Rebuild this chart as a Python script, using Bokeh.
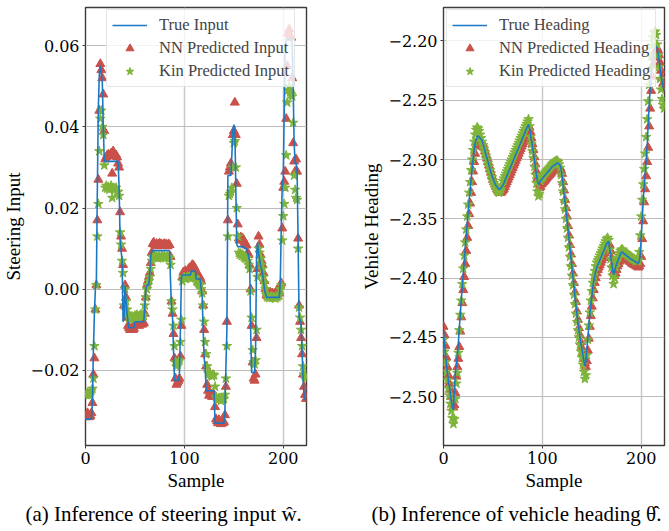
from bokeh.plotting import figure
from bokeh.layouts import row
from bokeh.models import Range1d, FixedTicker, CustomJSTickFormatter, Legend, LegendItem, Title
from bokeh.embed import file_html
from bokeh.resources import INLINE

# ---------------- data ----------------
x_ticks = [0, 100, 200]
input_ticks = [-0.02, 0.0, 0.02, 0.04, 0.06]
heading_ticks = [-2.50, -2.45, -2.40, -2.35, -2.30, -2.25, -2.20]

true_input = [
    -0.032, -0.032, -0.032, -0.032, -0.032, -0.032, -0.0318, -0.028, -0.015, -0.006,
    0.0, 0.002, 0.025, 0.045, 0.053, 0.055, 0.053, 0.051, 0.040, 0.0315,
    0.0315, 0.0315, 0.0315, 0.0315, 0.0315, 0.0315, 0.0315, 0.0315, 0.0315, 0.0315,
    0.0315, 0.0315, 0.0315, 0.0315, 0.025, 0.012, 0.0095, 0.007, -0.008, -0.007,
    0.001, -0.003, -0.006, -0.008, -0.0095, -0.0095, -0.0095, -0.0095, -0.0095, -0.0095,
    -0.008, -0.008, -0.008, -0.008, -0.008, -0.008, -0.008, -0.008, -0.008, -0.008,
    -0.004, 0.0, 0.001, 0.001, 0.001, 0.004, 0.008, 0.0095, 0.0095, 0.0095,
    0.0095, 0.0095, 0.0095, 0.0095, 0.0095, 0.0095, 0.0095, 0.0095, 0.0095, 0.0095,
    0.0095, 0.0095, 0.0095, 0.0095, 0.0095, 0.0095, 0.002, -0.005, -0.007, -0.015,
    -0.0225, -0.0225, -0.0225, -0.0225, -0.0225, -0.021, -0.010, 0.003, 0.0035, 0.0035,
    0.0035, 0.0035, 0.0035, 0.0035, 0.0035, 0.0035, 0.0035, 0.0045, 0.0045, 0.0045,
    0.0045, 0.0045, 0.0025, 0.0025, 0.0025, 0.0025, 0.0025, 0.0, -0.002, -0.010,
    -0.017, -0.019, -0.025, -0.025, -0.025, -0.025, -0.025, -0.025, -0.025, -0.025,
    -0.025, -0.033, -0.033, -0.033, -0.033, -0.033, -0.033, -0.033, -0.033, -0.033,
    -0.033, -0.030, -0.019, -0.010, 0.028, 0.028, 0.028, 0.028, 0.033, 0.039,
    0.0405, 0.040, 0.025, 0.011, 0.0105, 0.0105, 0.0105, 0.0105, 0.0105, 0.0105,
    0.0105, 0.010, 0.010, 0.010, 0.009, 0.008, 0.007, -0.010, -0.0205, -0.0205,
    -0.0205, -0.0205, -0.015, 0.008, 0.0115, 0.009, 0.0075, 0.006, 0.005, 0.004,
    0.002, 0.0, -0.001, -0.002, -0.002, -0.002, -0.002, -0.002, -0.002, -0.002,
    -0.002, -0.002, -0.002, -0.002, -0.002, -0.002, -0.002, 0.002, 0.015, 0.0265,
    0.027, 0.045, 0.060, 0.0615, 0.0615, 0.0615, 0.0615, 0.0615, 0.0615, 0.0605,
    0.050, 0.036, 0.031, 0.031, 0.029, 0.012, -0.007, -0.0075, -0.0085, -0.015,
    -0.022, -0.026, -0.027, -0.0275,
]

nn_input = [
    -0.0315, -0.031, -0.0305, -0.031, -0.0315, -0.0312, -0.0305, -0.028, -0.021, -0.017,
    -0.005, 0.001, 0.017, 0.027, 0.044, 0.0555, 0.054, 0.052, 0.048, 0.039,
    0.032, 0.0325, 0.033, 0.0332, 0.033, 0.0328, 0.0335, 0.0285, 0.034, 0.0333,
    0.0328, 0.033, 0.0325, 0.031, 0.030, 0.019, 0.013, 0.010, 0.006, -0.004,
    0.001, -0.002, -0.007, -0.009, -0.0095, -0.010, -0.0098, -0.0095, -0.010, -0.0097,
    -0.0085, -0.0088, -0.0083, -0.0085, -0.009, -0.0085, -0.0082, -0.0087, -0.0085, -0.0083,
    -0.006, -0.002, 0.001, 0.002, 0.003, 0.004, 0.0065, 0.009, 0.0112, 0.0115,
    0.011, 0.0108, 0.0112, 0.0106, 0.011, 0.0113, 0.0109, 0.0111, 0.0107, 0.011,
    0.0112, 0.0108, 0.011, 0.0106, 0.0111, 0.0109, 0.008, -0.003, -0.006, -0.011,
    -0.017, -0.022, -0.0235, -0.023, -0.0225, -0.022, -0.0165, -0.009, 0.003, 0.0042,
    0.004, 0.0045, 0.0038, 0.0043, 0.0048, 0.0052, 0.005, 0.0055, 0.006, 0.0058,
    0.0055, 0.005, 0.004, 0.0035, 0.003, 0.0032, 0.0028, 0.002, -0.0005, -0.004,
    -0.010, -0.016, -0.019, -0.0235, -0.025, -0.0262, -0.0255, -0.026, -0.0265, -0.0258,
    -0.026, -0.029, -0.032, -0.0325, -0.033, -0.0322, -0.0328, -0.0332, -0.0325, -0.033,
    -0.0327, -0.031, -0.024, -0.008, 0.017, 0.029, 0.030, 0.031, 0.030, 0.038,
    0.039, 0.046, 0.038, 0.026, 0.016, 0.0125, 0.012, 0.0128, 0.0122, 0.0125,
    0.012, 0.0115, 0.011, 0.0108, 0.009, 0.0085, 0.006, 0.0, -0.009, -0.018,
    -0.022, -0.0225, -0.021, -0.012, 0.005, 0.013, 0.011, 0.0085, 0.007, 0.006,
    0.004, 0.002, 0.0, -0.0015, -0.001, -0.0018, -0.0012, -0.0008, -0.0015, -0.001,
    -0.0012, -0.0018, -0.001, -0.0005, -0.0012, -0.0008, -0.001, 0.001, 0.0015, 0.015,
    0.025, 0.0265, 0.029, 0.042, 0.055, 0.063, 0.064, 0.0625, 0.062, 0.052,
    0.036, 0.0315, 0.029, 0.032, 0.029, 0.0125, -0.004, -0.008, -0.012, -0.016,
    -0.021, -0.024, -0.026, -0.027,
]

kin_input = [
    -0.026, -0.026, -0.0255, -0.026, -0.026, -0.0255, -0.025, -0.0245, -0.022, -0.014,
    -0.005, 0.001, 0.013, 0.021, 0.034, 0.042, 0.044, 0.040, 0.038, 0.0305,
    0.025, 0.0255, 0.0248, 0.0252, 0.0245, 0.025, 0.0255, 0.0225, 0.025, 0.0248,
    0.0245, 0.025, 0.024, 0.024, 0.023, 0.014, 0.011, 0.007, 0.004, -0.004,
    0.0, -0.003, -0.005, -0.006, -0.007, -0.0072, -0.0068, -0.007, -0.0073, -0.0069,
    -0.0065, -0.0068, -0.0063, -0.0066, -0.007, -0.0065, -0.0062, -0.0067, -0.0064, -0.0066,
    -0.004, -0.002, 0.0, 0.001, 0.002, 0.003, 0.005, 0.007, 0.0078, 0.008,
    0.0082, 0.0078, 0.008, 0.0076, 0.0081, 0.0079, 0.0077, 0.0082, 0.008, 0.0078,
    0.0081, 0.0077, 0.0079, 0.008, 0.0078, 0.0076, 0.006, -0.003, -0.005, -0.009,
    -0.014, -0.018, -0.019, -0.0185, -0.018, -0.0175, -0.013, -0.0075, 0.002, 0.0028,
    0.003, 0.0025, 0.0027, 0.0031, 0.0029, 0.003, 0.0032, 0.0033, 0.003, 0.0029,
    0.003, 0.0027, 0.002, 0.0018, 0.0015, 0.0012, 0.001, 0.0, -0.001, -0.004,
    -0.008, -0.013, -0.016, -0.019, -0.0205, -0.021, -0.0208, -0.0212, -0.0215, -0.021,
    -0.0212, -0.024, -0.0265, -0.027, -0.0272, -0.0268, -0.027, -0.0275, -0.0268, -0.0272,
    -0.027, -0.026, -0.022, -0.014, 0.013, 0.023, 0.0235, 0.024, 0.025, 0.030,
    0.036, 0.0365, 0.030, 0.020, 0.013, 0.009, 0.0085, 0.0088, 0.0082, 0.0085,
    0.008, 0.0078, 0.0075, 0.0077, 0.007, 0.006, 0.005, -0.0005, -0.007, -0.015,
    -0.018, -0.0185, -0.0175, -0.010, 0.003, 0.010, 0.009, 0.0075, 0.006, 0.005,
    0.003, 0.0015, 0.0, -0.0015, -0.002, -0.0018, -0.0022, -0.002, -0.0017, -0.0021,
    -0.0019, -0.002, -0.0023, -0.0018, -0.002, -0.0016, -0.0015, 0.0, 0.001, 0.012,
    0.018, 0.021, 0.025, 0.033, 0.046, 0.049, 0.050, 0.0485, 0.048, 0.0475,
    0.041, 0.028, 0.0245, 0.0225, 0.022, 0.010, -0.0045, -0.007, -0.010, -0.014,
    -0.019, -0.021, -0.0215, -0.022,
]

true_heading = [
    -2.445, -2.455, -2.465, -2.473, -2.480, -2.487, -2.492, -2.498, -2.504, -2.509,
    -2.511, -2.495, -2.480, -2.472, -2.465, -2.455, -2.442, -2.430, -2.418, -2.407,
    -2.396, -2.385, -2.374, -2.363, -2.353, -2.343, -2.334, -2.325, -2.316, -2.307,
    -2.299, -2.292, -2.286, -2.283, -2.281, -2.280, -2.281, -2.282, -2.283, -2.284,
    -2.287, -2.290, -2.293, -2.296, -2.299, -2.302, -2.305, -2.308, -2.311, -2.314,
    -2.316, -2.318, -2.320, -2.322, -2.323, -2.324, -2.325, -2.325, -2.324, -2.323,
    -2.322, -2.320, -2.318, -2.316, -2.314, -2.312, -2.310, -2.308, -2.306, -2.304,
    -2.302, -2.300, -2.298, -2.296, -2.294, -2.292, -2.290, -2.288, -2.286, -2.284,
    -2.282, -2.280, -2.278, -2.276, -2.274, -2.272, -2.2705, -2.274, -2.279, -2.284,
    -2.289, -2.295, -2.301, -2.307, -2.313, -2.318, -2.321, -2.320, -2.318, -2.317,
    -2.316, -2.315, -2.314, -2.313, -2.312, -2.311, -2.310, -2.309, -2.308, -2.307,
    -2.306, -2.305, -2.305, -2.304, -2.304, -2.303, -2.303, -2.304, -2.305, -2.308,
    -2.315, -2.322, -2.330, -2.337, -2.344, -2.352, -2.360, -2.368, -2.376, -2.384,
    -2.392, -2.400, -2.408, -2.416, -2.424, -2.431, -2.438, -2.444, -2.450, -2.455,
    -2.460, -2.465, -2.470, -2.474, -2.470, -2.460, -2.450, -2.440, -2.430, -2.422,
    -2.415, -2.408, -2.402, -2.398, -2.394, -2.391, -2.389, -2.387, -2.385, -2.383,
    -2.381, -2.379, -2.377, -2.375, -2.373, -2.371, -2.370, -2.369, -2.375, -2.381,
    -2.387, -2.393, -2.397, -2.394, -2.391, -2.388, -2.386, -2.384, -2.382, -2.380,
    -2.378, -2.378, -2.379, -2.380, -2.380, -2.381, -2.382, -2.382, -2.383, -2.384,
    -2.384, -2.385, -2.385, -2.386, -2.386, -2.387, -2.387, -2.3875, -2.386, -2.380,
    -2.365, -2.350, -2.334, -2.323, -2.312, -2.300, -2.288, -2.270, -2.255, -2.240,
    -2.228, -2.218, -2.212, -2.208, -2.206, -2.205, -2.206, -2.210, -2.216, -2.223,
    -2.229, -2.234, -2.238, -2.242,
]

nn_heading = [
    -2.441, -2.448, -2.457, -2.467, -2.475, -2.482, -2.489, -2.494, -2.500, -2.506,
    -2.509, -2.507, -2.497, -2.483, -2.475, -2.468, -2.458, -2.445, -2.433, -2.421,
    -2.410, -2.399, -2.388, -2.377, -2.366, -2.356, -2.346, -2.337, -2.328, -2.319,
    -2.310, -2.302, -2.295, -2.289, -2.286, -2.284, -2.283, -2.284, -2.285, -2.286,
    -2.287, -2.290, -2.293, -2.296, -2.299, -2.302, -2.305, -2.308, -2.311, -2.314,
    -2.317, -2.319, -2.321, -2.323, -2.325, -2.326, -2.327, -2.328, -2.328, -2.327,
    -2.326, -2.325, -2.323, -2.321, -2.319, -2.317, -2.315, -2.313, -2.311, -2.309,
    -2.307, -2.305, -2.303, -2.301, -2.299, -2.297, -2.295, -2.293, -2.291, -2.289,
    -2.287, -2.285, -2.283, -2.281, -2.279, -2.277, -2.275, -2.273, -2.277, -2.282,
    -2.287, -2.292, -2.298, -2.304, -2.310, -2.316, -2.321, -2.324, -2.323, -2.321,
    -2.320, -2.319, -2.318, -2.317, -2.316, -2.315, -2.314, -2.313, -2.312, -2.311,
    -2.310, -2.309, -2.308, -2.308, -2.307, -2.307, -2.306, -2.306, -2.307, -2.309,
    -2.312, -2.319, -2.326, -2.334, -2.341, -2.348, -2.356, -2.364, -2.372, -2.380,
    -2.388, -2.396, -2.404, -2.412, -2.420, -2.428, -2.435, -2.442, -2.448, -2.454,
    -2.459, -2.464, -2.468, -2.472, -2.475, -2.470, -2.461, -2.451, -2.441, -2.432,
    -2.424, -2.417, -2.410, -2.404, -2.400, -2.396, -2.393, -2.391, -2.389, -2.387,
    -2.385, -2.383, -2.381, -2.379, -2.377, -2.375, -2.373, -2.372, -2.372, -2.377,
    -2.383, -2.389, -2.395, -2.398, -2.396, -2.393, -2.390, -2.388, -2.386, -2.384,
    -2.382, -2.381, -2.381, -2.382, -2.383, -2.384, -2.384, -2.385, -2.386, -2.386,
    -2.387, -2.388, -2.388, -2.389, -2.389, -2.390, -2.390, -2.391, -2.390, -2.388,
    -2.382, -2.367, -2.352, -2.336, -2.325, -2.314, -2.302, -2.290, -2.272, -2.257,
    -2.242, -2.230, -2.220, -2.214, -2.209, -2.207, -2.206, -2.208, -2.212, -2.218,
    -2.225, -2.231, -2.236, -2.240,
]

kin_heading = [
    -2.452, -2.462, -2.471, -2.479, -2.486, -2.493, -2.499, -2.506, -2.512, -2.518,
    -2.523, -2.519, -2.502, -2.489, -2.480, -2.463, -2.444, -2.431, -2.419, -2.405,
    -2.392, -2.381, -2.370, -2.359, -2.348, -2.338, -2.328, -2.319, -2.309, -2.300,
    -2.292, -2.285, -2.279, -2.275, -2.273, -2.274, -2.276, -2.279, -2.282, -2.285,
    -2.288, -2.291, -2.294, -2.297, -2.300, -2.303, -2.306, -2.309, -2.312, -2.315,
    -2.318, -2.320, -2.322, -2.324, -2.326, -2.327, -2.328, -2.327, -2.325, -2.322,
    -2.318, -2.316, -2.314, -2.312, -2.310, -2.308, -2.306, -2.304, -2.302, -2.300,
    -2.298, -2.296, -2.294, -2.292, -2.290, -2.288, -2.286, -2.284, -2.282, -2.280,
    -2.278, -2.276, -2.274, -2.272, -2.270, -2.268, -2.266, -2.272, -2.281, -2.287,
    -2.293, -2.299, -2.306, -2.313, -2.320, -2.327, -2.331, -2.329, -2.318, -2.316,
    -2.315, -2.314, -2.312, -2.311, -2.310, -2.309, -2.308, -2.307, -2.306, -2.305,
    -2.304, -2.303, -2.302, -2.302, -2.301, -2.301, -2.302, -2.304, -2.307, -2.313,
    -2.320, -2.327, -2.335, -2.342, -2.350, -2.358, -2.366, -2.374, -2.382, -2.390,
    -2.398, -2.406, -2.414, -2.422, -2.430, -2.437, -2.444, -2.450, -2.456, -2.462,
    -2.467, -2.473, -2.479, -2.485, -2.482, -2.465, -2.452, -2.440, -2.429, -2.419,
    -2.411, -2.404, -2.398, -2.394, -2.390, -2.387, -2.385, -2.383, -2.381, -2.379,
    -2.377, -2.375, -2.373, -2.371, -2.369, -2.367, -2.366, -2.368, -2.376, -2.384,
    -2.391, -2.398, -2.405, -2.400, -2.391, -2.386, -2.383, -2.381, -2.379, -2.377,
    -2.376, -2.376, -2.377, -2.378, -2.379, -2.379, -2.380, -2.381, -2.381, -2.382,
    -2.383, -2.383, -2.384, -2.384, -2.385, -2.385, -2.386, -2.385, -2.378, -2.364,
    -2.348, -2.334, -2.321, -2.308, -2.295, -2.281, -2.266, -2.251, -2.237, -2.224,
    -2.213, -2.204, -2.197, -2.193, -2.192, -2.195, -2.203, -2.212, -2.222, -2.232,
    -2.241, -2.249, -2.254, -2.257,
]

samples = list(range(len(true_input)))
for arr in (nn_input, kin_input, true_heading, nn_heading, kin_heading):
    assert len(arr) == len(samples), len(arr)

# ---------------- styling ----------------
FONT = "Liberation Serif"
TICK_FONT = "DejaVu Serif"
BLUE = "#1a78c4"
RED = "#c9514a"
GREEN = "#7fb43a"


def make_panel(width, left, right, ylo, yhi, yticks, ylabel, y_true, y_nn, y_kin,
               labels, caption, cap_offset, legend_loc):
    p = figure(width=width, height=531, x_range=Range1d(0, 223.5), y_range=Range1d(ylo, yhi),
               output_backend="svg", toolbar_location=None,
               min_border_left=left, min_border_right=right, min_border_top=7, min_border_bottom=82)
    p.background_fill_color = "white"
    p.border_fill_color = "white"
    p.outline_line_color = "#3c3c3c"
    p.outline_line_width = 1.4

    r_nn = p.scatter(samples, y_nn, marker="triangle", size=9, fill_color=RED, line_color=RED)
    r_kin = p.scatter(samples, y_kin, marker="star", size=10, fill_color=GREEN, line_color=GREEN)
    r_true = p.line(samples, y_true, line_color=BLUE, line_width=1.6)

    p.xaxis.ticker = FixedTicker(ticks=x_ticks)
    p.yaxis.ticker = FixedTicker(ticks=yticks)
    p.yaxis.formatter = CustomJSTickFormatter(
        code="return (tick < -1e-9 ? '\\u2212' : '') + Math.abs(tick).toFixed(2);")
    p.xaxis.axis_label = "Sample"
    p.yaxis.axis_label = ylabel
    for ax in (p.xaxis, p.yaxis):
        ax.axis_line_color = None
        ax.major_tick_line_color = "#3c3c3c"
        ax.major_tick_out = 3
        ax.major_tick_in = 0
        ax.minor_tick_line_color = None
        ax.major_label_text_font = TICK_FONT
        ax.major_label_text_font_size = "16px"
        ax.major_label_text_color = "black"
        ax.axis_label_text_font = FONT
        ax.axis_label_text_font_size = "19px"
        ax.axis_label_text_font_style = "normal"
        ax.axis_label_text_color = "black"
        ax.major_label_standoff = 3
        ax.axis_label_standoff = 3

    p.xgrid.grid_line_color = "#c8c8c8"
    p.xgrid.grid_line_width = 1.5
    p.ygrid.grid_line_color = "#bcbcbc"
    p.ygrid.grid_line_width = 1.2

    legend = Legend(items=[LegendItem(label=labels[0], renderers=[r_true]),
                           LegendItem(label=labels[1], renderers=[r_nn]),
                           LegendItem(label=labels[2], renderers=[r_kin])],
                    location=legend_loc)
    legend.label_text_font = FONT
    legend.label_text_font_size = "16.5px"
    legend.glyph_width = 35
    legend.glyph_height = 20
    legend.label_height = 20
    legend.label_standoff = 12
    legend.spacing = 3
    legend.padding = 5
    legend.margin = 0
    legend.border_line_color = "#cccccc"
    legend.border_line_width = 1
    legend.background_fill_alpha = 0.8
    p.add_layout(legend)

    t = Title(text=caption, align="left", offset=cap_offset, text_font=FONT,
              text_font_size="21px", text_font_style="normal", text_color="black", standoff=12)
    p.add_layout(t, "below")
    return p


p1 = make_panel(340, 83, 34, -0.0385, 0.0694, input_ticks, "Steering Input",
                true_input, nn_input, kin_input,
                ["True Input", "NN Predicted Input", "Kin Predicted Input"],
                "(a) Inference of steering input \u0175.", -60, (21, 358))
p2 = make_panel(329, 103, 5, -2.5412, -2.1718, heading_ticks, "Vehicle Heading",
                true_heading, nn_heading, kin_heading,
                ["True Heading", "NN Predicted Heading", "Kin Predicted Heading"],
                "(b) Inference of vehicle heading \u03b8\u0302.", -72, (3, 358))

layout = row(p1, p2)
open("out.html", "w").write(file_html(layout, INLINE))
